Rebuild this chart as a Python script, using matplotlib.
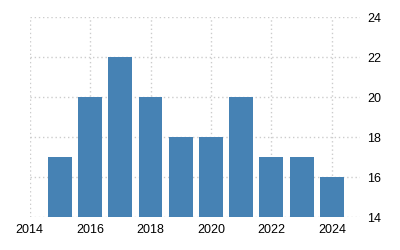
import matplotlib
matplotlib.use("Agg")
import matplotlib.pyplot as plt

years = [2015, 2016, 2017, 2018, 2019, 2020, 2021, 2022, 2023, 2024]
values = [17, 20, 22, 20, 18, 18, 20, 17, 17, 16]
xticks = [2014, 2016, 2018, 2020, 2022, 2024]
yticks = [14, 16, 18, 20, 22, 24]

plt.rcParams['font.family'] = ['Liberation Sans', 'DejaVu Sans']

fig = plt.figure(figsize=(4, 2.5), dpi=100)
ax = fig.add_axes([0.074, 0.132, 0.826, 0.8])
ax.bar(years, values, width=0.79, color='#4682b4', zorder=2)
ax.set_xlim(2014, 2024.93)
ax.set_ylim(14, 24)
ax.set_xticks(xticks)
ax.set_yticks(yticks)
ax.yaxis.tick_right()
for s in ax.spines.values():
    s.set_visible(False)
ax.grid(True, linestyle=(0, (1, 2)), color='#cccccc', linewidth=1, zorder=0)
ax.tick_params(axis='both', length=0, labelsize=9, colors='#000000')
ax.tick_params(axis='x', pad=5)
ax.tick_params(axis='y', pad=5)
fig.savefig('out.png', dpi=100)
